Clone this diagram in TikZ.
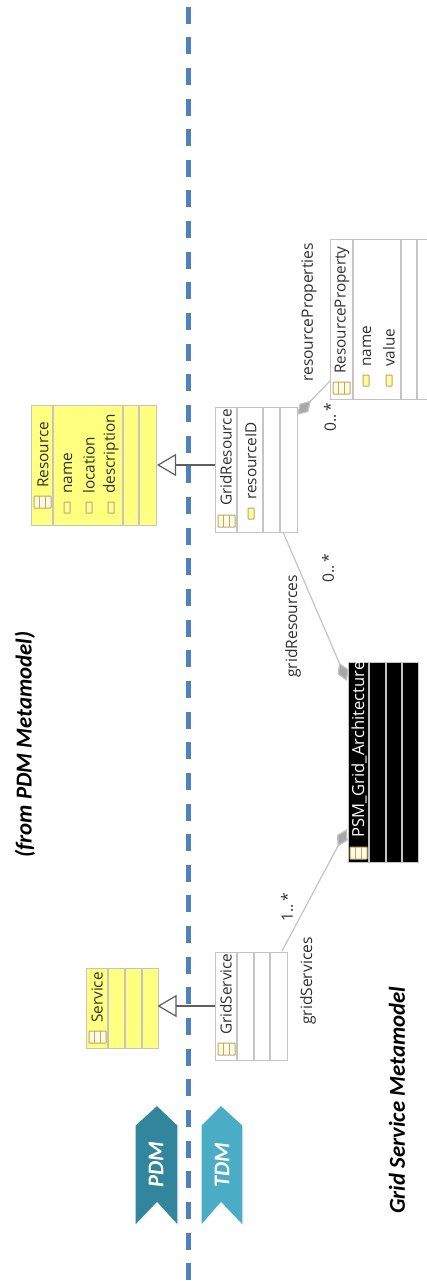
\documentclass[tikz,border=0pt]{standalone}
\usepackage{fontspec}
\setmainfont{Open Sans}
\newfontfamily\capfont{Carlito}
\usetikzlibrary{arrows.meta,shadows,calc}
\definecolor{umlgray}{HTML}{C4C4C4}
\definecolor{umlyellow}{HTML}{FFFF80}
\definecolor{linegray}{HTML}{5E5E5E}
\definecolor{assocgray}{HTML}{C4C4C4}
\definecolor{dashblue}{HTML}{4F81BD}
\definecolor{pdmcol}{HTML}{31859C}
\definecolor{tdmcol}{HTML}{4BACC6}
\definecolor{icontan}{HTML}{BFA765}
\definecolor{iconfill}{HTML}{FFFBE0}
\definecolor{txtgray}{HTML}{303030}
\tikzset{
  x=1pt,y=-1pt,
  umlbox/.style={draw=umlgray,line width=1.1pt,anchor=north west,inner sep=0pt},
  cname/.style={rotate=90,font=\fontsize{15.3}{15.3}\selectfont,text=txtgray,inner sep=0pt,anchor=west},
  attr/.style={rotate=90,font=\fontsize{15.3}{15.3}\selectfont,text=txtgray,inner sep=0pt,anchor=west},
  role/.style={rotate=90,font=\fontsize{15.6}{15.6}\selectfont,text=txtgray,inner sep=0pt,anchor=west},
  caption/.style={rotate=90,font=\capfont\bfseries\itshape\fontsize{22.8}{22.8}\selectfont,inner sep=0pt,anchor=west},
  tag/.style={rotate=90,font=\capfont\bfseries\itshape\fontsize{22.5}{22.5}\selectfont,text=white,inner sep=0pt},
  divider/.style={draw=umlgray,line width=1.1pt},
  gen/.style={draw=linegray,line width=1.5pt,-{Triangle[open,length=19pt,width=22pt,line width=1.2pt]}},
  compos/.style={draw=assocgray,line width=1.2pt,{Diamond[length=20pt,width=12pt,fill=assocgray!85!black]}-},
  chevron/.style={draw=white,line width=1.3pt,drop shadow={shadow xshift=0.6pt,shadow yshift=-0.6pt,opacity=.3}},
  sepline/.style={line width=5pt,dash pattern=on 17pt off 13.65pt},
  classicon/.pic={
    \filldraw[draw=icontan,fill=iconfill,line width=1pt,rounded corners=.5pt] (0,0) rectangle (17,12);
    \draw[draw=icontan,line width=.9pt] (5.7,0) -- (5.7,12) (11.3,0) -- (11.3,12);
  },
  attricon/.pic={
    \filldraw[draw=icontan,fill=iconfill!70!yellow,line width=1pt,rounded corners=.5pt] (0,0) rectangle (6,11);
  },
}
\begin{document}
\begin{tikzpicture}
\clip (0,0) rectangle (427,1281);
\fill[white] (0,0) rectangle (427,1281);
% dashed separator
\coordinate (septop) at (188.8,6.6);
\coordinate (sepbot) at (188.8,1281);
\draw[black,opacity=.18,sepline,yshift=-2pt] (septop) -- (sepbot);
\draw[dashblue,sepline] (septop) -- (sepbot);
% captions
\node[caption] (capa) at (25,858) {(from PDM Metamodel)};
\node[caption] (capb) at (397,1214) {Grid Service Metamodel};
% Resource
\node[umlbox,fill=umlyellow,minimum width=125pt,minimum height=120pt] (resource) at (31,405) {};
\draw[divider] (53,405) -- (53,525) (123,405) -- (123,525) (139,405) -- (139,525);
\pic at (34,496) {classicon};
\node[cname] (resname) at (43,488) {Resource};
\pic at (64,502) {attricon};
\node[attr] (a1) at (68,494) {name};
\pic at (86,502) {attricon};
\node[attr] (a2) at (89,494) {location};
\pic at (108,502) {attricon};
\node[attr] (a3) at (111,494) {description};
% Service
\node[umlbox,fill=umlyellow,minimum width=72pt,minimum height=80pt] (service) at (86,968) {};
\draw[divider] (108,968) -- (108,1048) (125,968) -- (125,1048) (142,968) -- (142,1048);
\pic at (89,1031) {classicon};
\node[cname] (svcname) at (97,1023) {Service};
% GridResource
\node[umlbox,fill=white,minimum width=82pt,minimum height=125pt] (gridres) at (215,407) {};
\draw[divider] (237,407) -- (237,532) (263,407) -- (263,532) (280,407) -- (280,532);
\pic at (218,515) {classicon};
\node[cname] (grname) at (226,506) {GridResource};
\pic at (248,508) {attricon};
\node[attr] (a4) at (251,500) {resourceID};
% GridService
\node[umlbox,fill=white,minimum width=72pt,minimum height=108pt] (gridsvc) at (215,952) {};
\draw[divider] (237,952) -- (237,1060) (254,952) -- (254,1060) (270,952) -- (270,1060);
\pic at (218,1043) {classicon};
\node[cname] (gsname) at (226,1035) {GridService};
% ResourceProperty
\node[umlbox,fill=white,minimum width=110pt,minimum height=160pt] (resprop) at (330,239) {};
\draw[divider] (353,239) -- (353,399) (401,239) -- (401,399) (417,239) -- (417,399);
\pic at (333,382) {classicon};
\node[cname] (rpname) at (342,374) {ResourceProperty};
\pic at (363,375) {attricon};
\node[attr] (a5) at (367,367) {name};
\pic at (386,375) {attricon};
\node[attr] (a6) at (389,367) {value};
% PSM
\node[umlbox,fill=black,minimum width=70pt,minimum height=200pt] (psm) at (348,662) {};
\draw[divider] (369,662) -- (369,862) (386,662) -- (386,862) (402,662) -- (402,862);
\pic at (350,847) {classicon};
\node[cname,text=white,font=\fontsize{16.6}{16.6}\selectfont] (psmname) at (359,838) {PSM\_Grid\_Architecture};
% connectors
\coordinate (gr-w) at (215,465);
\coordinate (res-e) at (157,465);
\draw[gen] (gr-w) -- (res-e);
\coordinate (gs-w) at (215,1006);
\coordinate (svc-e) at (157.5,1006);
\draw[gen] (gs-w) -- (svc-e);
\coordinate (gr-e) at (297,415);
\coordinate (rp-w) at (330,381);
\draw[compos] (gr-e) -- (rp-w);
\coordinate (psm-t) at (347,681);
\coordinate (gr-b) at (283,532);
\draw[compos] (psm-t) -- (gr-b);
\coordinate (psm-b) at (347,829);
\coordinate (gs-t) at (282,951);
\draw[compos] (psm-b) -- (gs-t);
% role labels
\node[role] (r1) at (309,382) {resourceProperties};
\node[role] (m1) at (330,432) {0..\,*};
\node[role] (r2) at (293,678) {gridResources};
\node[role] (m2) at (328,583) {0..\,*};
\node[role] (m3) at (287,922) {1..\,*};
\node[role] (r3) at (308,1025) {gridServices};
% chevrons
\filldraw[chevron,fill=pdmcol] (135,1125) -- (157,1105) -- (178,1125) -- (178,1226) -- (157,1203) -- (135,1226) -- cycle;
\filldraw[chevron,fill=tdmcol] (201,1125) -- (221,1105) -- (243,1125) -- (243,1226) -- (221,1203) -- (201,1226) -- cycle;
\node[tag] (pdm) at (156,1165) {PDM};
\node[tag] (tdm) at (222,1165) {TDM};
\end{tikzpicture}
\end{document}
